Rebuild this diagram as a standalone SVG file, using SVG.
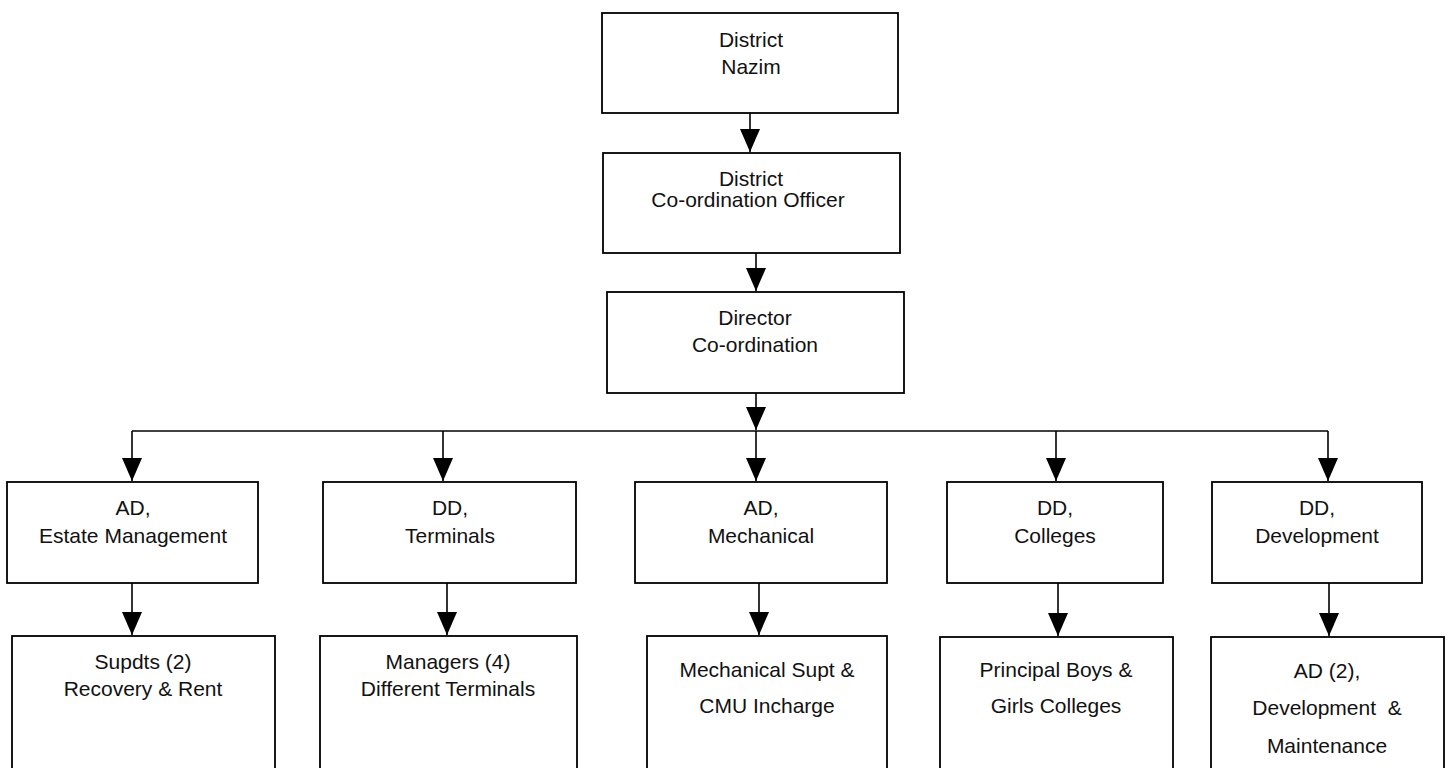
<svg xmlns="http://www.w3.org/2000/svg" width="1448" height="768" viewBox="0 0 1448 768">
<style>
.box{fill:#fff;stroke:#000;stroke-width:1.8}
.t{font-family:"Liberation Sans",Arial,sans-serif;font-size:21px;fill:#111;text-anchor:middle}
.c{fill:none;stroke:#000;stroke-width:1.6}
</style>
<defs>
<marker id="ah" markerUnits="userSpaceOnUse" markerWidth="24" markerHeight="22" refX="23" refY="10" orient="auto">
<path d="M0,0 L23,10 L0,20 z" fill="#000"/>
</marker>
</defs>
<rect width="1448" height="768" fill="#fff"/>
<g id="connectors">
<path class="c" d="M750,113 V152" marker-end="url(#ah)"/>
<path class="c" d="M756,253 V291" marker-end="url(#ah)"/>
<path class="c" d="M756,393 V430" marker-end="url(#ah)"/>
<path class="c" d="M132,431 H1328"/>
<path class="c" d="M132,431 V481" marker-end="url(#ah)"/>
<path class="c" d="M443,431 V481" marker-end="url(#ah)"/>
<path class="c" d="M756,431 V481" marker-end="url(#ah)"/>
<path class="c" d="M1056,431 V481" marker-end="url(#ah)"/>
<path class="c" d="M1328,431 V481" marker-end="url(#ah)"/>
<path class="c" d="M132,583 V635" marker-end="url(#ah)"/>
<path class="c" d="M447,583 V635" marker-end="url(#ah)"/>
<path class="c" d="M759,583 V635" marker-end="url(#ah)"/>
<path class="c" d="M1058,583 V636" marker-end="url(#ah)"/>
<path class="c" d="M1329,583 V636" marker-end="url(#ah)"/>
</g>
<g id="n-nazim">
<rect class="box" x="602" y="13" width="296" height="100"/>
<text class="t" x="751" y="47">District</text>
<text class="t" x="751" y="74">Nazim</text>
</g>
<g id="n-dco">
<rect class="box" x="603" y="153" width="297" height="100"/>
<text class="t" x="751" y="186">District</text>
<text class="t" x="748" y="207">Co-ordination Officer</text>
</g>
<g id="n-director">
<rect class="box" x="607" y="292" width="297" height="101"/>
<text class="t" x="755" y="325">Director</text>
<text class="t" x="755" y="352">Co-ordination</text>
</g>
<g id="n-ad-estate">
<rect class="box" x="7" y="482" width="251" height="101"/>
<text class="t" x="133" y="515">AD,</text>
<text class="t" x="133" y="543">Estate Management</text>
</g>
<g id="n-dd-terminals">
<rect class="box" x="323" y="482" width="253" height="101"/>
<text class="t" x="450" y="515">DD,</text>
<text class="t" x="450" y="543">Terminals</text>
</g>
<g id="n-ad-mechanical">
<rect class="box" x="635" y="482" width="252" height="101"/>
<text class="t" x="761" y="515">AD,</text>
<text class="t" x="761" y="543">Mechanical</text>
</g>
<g id="n-dd-colleges">
<rect class="box" x="947" y="482" width="216" height="101"/>
<text class="t" x="1055" y="515">DD,</text>
<text class="t" x="1055" y="543">Colleges</text>
</g>
<g id="n-dd-development">
<rect class="box" x="1212" y="482" width="210" height="101"/>
<text class="t" x="1317" y="515">DD,</text>
<text class="t" x="1317" y="543">Development</text>
</g>
<g id="n-supdts">
<rect class="box" x="12" y="636" width="263" height="140"/>
<text class="t" x="143" y="669">Supdts (2)</text>
<text class="t" x="143" y="696">Recovery &amp; Rent</text>
</g>
<g id="n-managers">
<rect class="box" x="320" y="636" width="257" height="140"/>
<text class="t" x="448" y="669">Managers (4)</text>
<text class="t" x="448" y="696">Different Terminals</text>
</g>
<g id="n-mech-supt">
<rect class="box" x="647" y="636" width="240" height="140"/>
<text class="t" x="767" y="677">Mechanical Supt &amp;</text>
<text class="t" x="767" y="713">CMU Incharge</text>
</g>
<g id="n-principal">
<rect class="box" x="940" y="637" width="233" height="140"/>
<text class="t" x="1056" y="677">Principal Boys &amp;</text>
<text class="t" x="1056" y="713">Girls Colleges</text>
</g>
<g id="n-ad-dev">
<rect class="box" x="1211" y="637" width="233" height="140"/>
<text class="t" x="1327" y="678">AD (2),</text>
<text class="t" x="1327" y="715" xml:space="preserve">Development  &amp;</text>
<text class="t" x="1327" y="753">Maintenance</text>
</g>
</svg>
